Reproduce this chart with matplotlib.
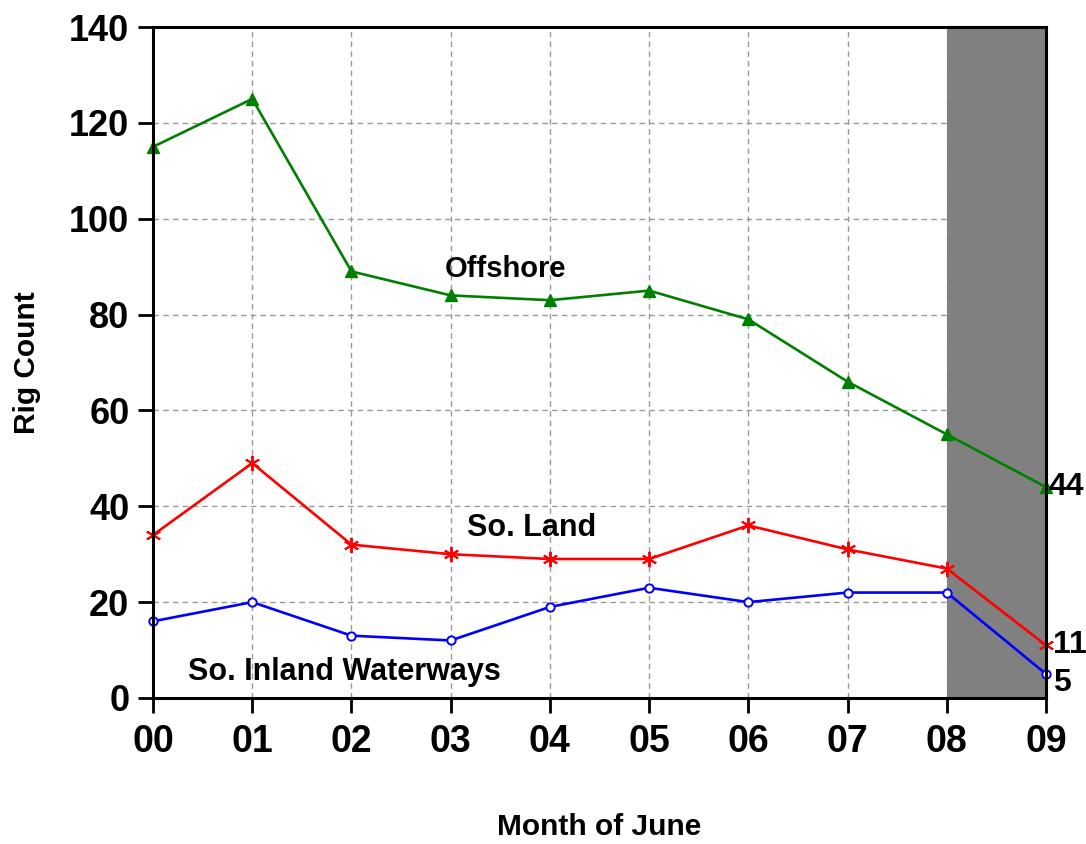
import matplotlib
matplotlib.use('Agg')
import matplotlib.pyplot as plt

plt.rcParams['font.family'] = ['Liberation Sans', 'DejaVu Sans']
plt.rcParams['font.weight'] = 'bold'

years = ['00', '01', '02', '03', '04', '05', '06', '07', '08', '09']
offshore = [115, 125, 89, 84, 83, 85, 79, 66, 55, 44]
so_land = [34, 49, 32, 30, 29, 29, 36, 31, 27, 11]
inland = [16, 20, 13, 12, 19, 23, 20, 22, 22, 5]

x = list(range(len(years)))

fig = plt.figure(figsize=(10.86, 8.44), dpi=100)
ax = fig.add_axes([0.1409, 0.173, 0.8223, 0.795])

# shaded final year
ax.axvspan(8, 9, color='#808080', zorder=1, lw=0)

ax.plot(x, offshore, '-', color='#008000', lw=1.9, marker='^', ms=9, zorder=3, clip_on=False)
ax.plot(x, so_land, '-', color='#ff0000', lw=1.9, marker=(6, 2, 0), ms=11, mew=1.4, zorder=3, clip_on=False)
ax.plot(x, inland, '-', color='#0000ff', lw=1.9, marker='o', ms=6, mfc='white', mew=1.4, zorder=3, clip_on=False)

ax.set_xlim(0, 9)
ax.set_ylim(0, 140)
ax.set_xticks(x)
ax.set_xticklabels(years)
ax.set_yticks(range(0, 141, 20))

ax.grid(True, color='#999999', ls=(0, (4, 3)), lw=1, zorder=0)
ax.set_axisbelow(True)
for s in ax.spines.values():
    s.set_linewidth(2.2)
    s.set_zorder(4)

ax.tick_params(axis='both', direction='out', width=2, length=11, labelsize=26, pad=6)
ax.tick_params(axis='x', labelsize=27, pad=8)

ax.set_xlabel('Month of June', fontsize=21.5, fontweight='bold', labelpad=38)
ax.set_ylabel('Rig Count', fontsize=21.5, fontweight='bold', labelpad=20)

ax.text(3.55, 89.5, 'Offshore', fontsize=21, fontweight='bold', ha='center', va='center')
ax.text(3.82, 35.5, 'So. Land', fontsize=22, fontweight='bold', ha='center', va='center')
ax.text(1.93, 5.5, 'So. Inland Waterways', fontsize=22, fontweight='bold', ha='center', va='center')

ax.text(9.02, offshore[-1], str(offshore[-1]), fontsize=23, fontweight='bold', ha='left', va='center')
ax.text(9.07, so_land[-1], str(so_land[-1]), fontsize=23, fontweight='bold', ha='left', va='center')
ax.text(9.07, inland[-1] - 1.8, str(inland[-1]), fontsize=23, fontweight='bold', ha='left', va='center')

fig.savefig('out.png', dpi=100)
